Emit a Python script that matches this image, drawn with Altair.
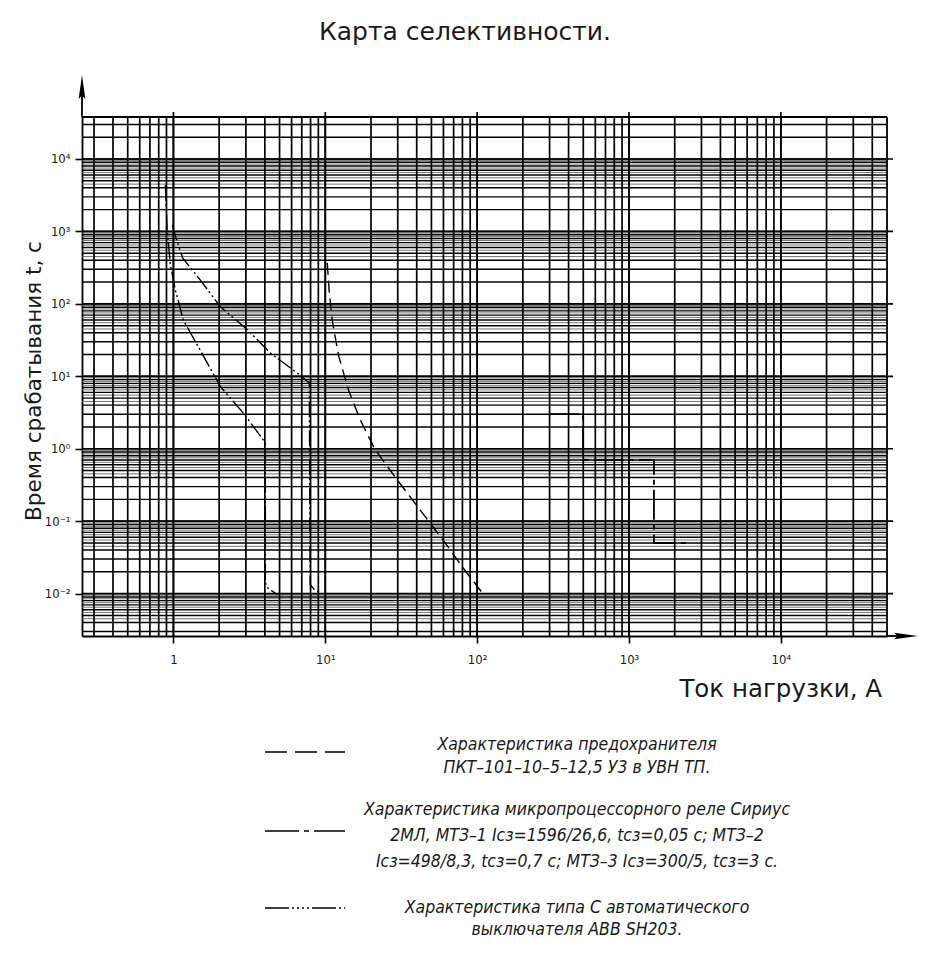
import altair as alt
import pandas as pd

# ---------------- data ----------------
# Fuse ПКТ-101-10-5-12,5 (dashed)
fuse_I = [10.3, 10.6, 11.1, 12.2, 14.2, 17.0, 21.3, 29.0, 42.0, 61.6, 83.0, 108.0]
fuse_t = [370, 155, 60, 19.8, 6.5, 2.5, 0.97, 0.40, 0.144, 0.05, 0.021, 0.0103]

# Breaker ABB SH203, type C – left (5·In) boundary
brkA_I = [0.885, 0.91, 0.955, 1.03, 1.16, 1.5, 2.04, 2.89, 4.03, 4.03, 4.15, 4.83]
brkA_t = [4370, 1050, 345, 155, 60, 23, 7.2, 3.1, 1.21, 0.0142, 0.0121, 0.0097]

# Breaker ABB SH203, type C – right (10·In) boundary
brkB_I = [0.985, 1.05, 1.15, 1.5, 2.04, 3.07, 4.35, 6.5, 7.85, 7.95, 8.47, 9.55]
brkB_t = [1230, 760, 430, 214, 91, 44, 21, 11.2, 8.1, 0.0133, 0.0114, 0.0100]

# Relay Sirius-2ML definite-time steps
relay_I = [300, 498, 498, 1460, 1460, 2500]
relay_t = [3.0, 3.0, 0.7, 0.7, 0.05, 0.05]

# grid / ticks
x_decades = [0.1, 1, 10, 100, 1000, 10000]
x_mult = [1, 2, 3, 4, 5, 6, 7, 8, 9]
y_decades = [0.001, 0.01, 0.1, 1, 10, 100, 1000, 10000]
y_mult = [1, 2, 3, 4, 5, 6, 7, 8, 9]
y_half = [4.5, 5.5, 6.5, 7.5, 8.5, 9.5]
x_label_values = [1, 10, 100, 1000, 10000]
y_label_values = [0.01, 0.1, 1, 10, 100, 1000, 10000]

title_text = "Карта селективности."
y_title = "Время срабатывания t, с"
x_title = "Ток нагрузки, А"
legend_fuse = ["Характеристика предохранителя", "ПКТ–101–10–5–12,5 У3 в УВН ТП."]
legend_relay = ["Характеристика микропроцессорного реле Сириус",
                "2МЛ, МТЗ–1 Iсз=1596/26,6, tсз=0,05 с; МТЗ–2",
                "Iсз=498/8,3, tсз=0,7 с; МТЗ–3 Iсз=300/5, tсз=3 с."]
legend_brk = ["Характеристика типа С автоматического", "выключателя ABB SH203."]

# ---------------- layout ----------------
W, H = 805, 519
X_DOM = [0.25, 50000]
Y_DOM = [0.0026, 38000]
FONT = "DejaVu Sans Condensed"
FONT_WIDE = "DejaVu Sans"
INK = "#1a1a1a"

x_grid = [m * d for d in x_decades for m in x_mult if X_DOM[0] < m * d < X_DOM[1]]
y_grid = [m * d for d in y_decades for m in y_mult if Y_DOM[0] < m * d < Y_DOM[1]]
y_grid_half = [m * d for d in y_decades for m in y_half if Y_DOM[0] < m * d < Y_DOM[1]]

xs = alt.Scale(type="log", domain=X_DOM, nice=False)
ys = alt.Scale(type="log", domain=Y_DOM, nice=False)

x_axis = alt.Axis(
    values=x_label_values,
    labelExpr="datum.value < 5 ? '1' : datum.value < 50 ? '10¹' : datum.value < 500 ? '10²' : datum.value < 5000 ? '10³' : '10⁴'",
    grid=False, tickSize=7, tickWidth=1.6, tickColor="black",
    domainColor="black", domainWidth=1.8,
    labelFont=FONT, labelFontSize=13, labelColor=INK, labelPadding=10,
)
y_axis = alt.Axis(
    values=y_label_values,
    labelExpr="datum.value < 0.05 ? '10⁻²' : datum.value < 0.5 ? '10⁻¹' : datum.value < 5 ? '10⁰' : datum.value < 50 ? '10¹' : datum.value < 500 ? '10²' : datum.value < 5000 ? '10³' : '10⁴'",
    grid=False, tickSize=7, tickWidth=1.6, tickColor="black",
    domainColor="black", domainWidth=1.8,
    labelFont=FONT, labelFontSize=13, labelColor=INK, labelPadding=5,
)


def X():
    return alt.X("I:Q", scale=xs, axis=x_axis, title=None)


def Y():
    return alt.Y("t:Q", scale=ys, axis=y_axis, title=None)


def series(I, t):
    return pd.DataFrame({"I": I, "t": t, "k": list(range(len(I)))})


# grid
vgrid = alt.Chart(pd.DataFrame({"I": x_grid})).mark_rule(color="black", strokeWidth=1.7).encode(
    x=X(), y=alt.value(0), y2=alt.value(H))
vmajor = alt.Chart(pd.DataFrame({"I": x_label_values})).mark_rule(color="black", strokeWidth=1.7).encode(
    x=X(), y=alt.value(-5), y2=alt.value(H))
hgrid_half = alt.Chart(pd.DataFrame({"t": y_grid_half})).mark_rule(color="#666", strokeWidth=0.9).encode(
    y=Y(), x=alt.value(0), x2=alt.value(W))
hgrid = alt.Chart(pd.DataFrame({"t": y_grid})).mark_rule(color="black", strokeWidth=1.4).encode(
    y=Y(), x=alt.value(0), x2=alt.value(W))
hmajor = alt.Chart(pd.DataFrame({"t": y_label_values})).mark_rule(color="black", strokeWidth=1.7).encode(
    y=Y(), x=alt.value(0), x2=alt.value(W + 6))

one = pd.DataFrame({"k": [0]})
border_top = alt.Chart(one).mark_rule(color="black", strokeWidth=1.8).encode(
    x=alt.value(0), x2=alt.value(W), y=alt.value(0))
border_right = alt.Chart(one).mark_rule(color="black", strokeWidth=1.8).encode(
    x=alt.value(W), y=alt.value(0), y2=alt.value(H))

# axis arrows
y_arrow_line = alt.Chart(one).mark_rule(color="black", strokeWidth=1.8).encode(
    x=alt.value(0), y=alt.value(-30), y2=alt.value(0))
x_arrow_line = alt.Chart(one).mark_rule(color="black", strokeWidth=1.8).encode(
    x=alt.value(W), x2=alt.value(W + 20), y=alt.value(H))
y_arrow = alt.Chart(one).mark_point(
    shape="M0,-1L0.28,1L0,0.7L-0.28,1Z", filled=True, color="black", opacity=1, size=576
).encode(x=alt.value(0), y=alt.value(-30))
x_arrow = alt.Chart(one).mark_point(
    shape="M1,0L-1,-0.28L-0.7,0L-1,0.28Z", filled=True, color="black", opacity=1, size=576
).encode(x=alt.value(W + 19), y=alt.value(H))

# curves
LW = 1.4
fuse = alt.Chart(series(fuse_I, fuse_t)).mark_line(color="black", strokeWidth=LW, strokeDash=[12, 6]).encode(
    x=X(), y=Y(), order="k:Q")
brkA = alt.Chart(series(brkA_I, brkA_t)).mark_line(color="black", strokeWidth=LW, strokeDash=[16, 3, 2, 3, 2, 3]).encode(
    x=X(), y=Y(), order="k:Q")
brkB = alt.Chart(series(brkB_I, brkB_t)).mark_line(color="black", strokeWidth=LW, strokeDash=[16, 3, 2, 3, 2, 3]).encode(
    x=X(), y=Y(), order="k:Q")
relay = alt.Chart(series(relay_I, relay_t)).mark_line(color="black", strokeWidth=LW + 0.4, strokeDash=[30, 5, 5, 5]).encode(
    x=X(), y=Y(), order="k:Q")


def txt(s, x, y, size, align="center", angle=0, italic=False, font=FONT):
    kw = dict(text=s, fontSize=size, align=align, baseline="middle", font=font, color=INK)
    if angle:
        kw["angle"] = angle
    if italic:
        kw["fontStyle"] = "italic"
    return alt.Chart(one).mark_text(**kw).encode(x=alt.value(x), y=alt.value(y))


texts = [
    txt(title_text, 383, -85, 25, font=FONT_WIDE),
    txt(y_title, -47, 264, 21.5, angle=270, font=FONT_WIDE),
    txt(x_title, 800, 573, 24.5, align="right", font=FONT_WIDE),
]
LX = 495
for i, s in enumerate(legend_fuse):
    texts.append(txt(s, LX, 628 + 23 * i, 17.5, italic=True))
for i, s in enumerate(legend_relay):
    texts.append(txt(s, LX, 693 + 26 * i, 17.5, italic=True))
for i, s in enumerate(legend_brk):
    texts.append(txt(s, LX, 791 + 22 * i, 17.5, italic=True))

leg_fuse = alt.Chart(one).mark_rule(color="black", strokeWidth=1.6, strokeDash=[22, 8]).encode(
    x=alt.value(183), x2=alt.value(263), y=alt.value(635))
leg_relay = alt.Chart(one).mark_rule(color="black", strokeWidth=1.6, strokeDash=[34, 5, 5, 5]).encode(
    x=alt.value(183), x2=alt.value(263), y=alt.value(714))
leg_brk = alt.Chart(one).mark_rule(color="black", strokeWidth=1.6, strokeDash=[24, 3, 2, 3, 2, 3, 2, 3, 2, 3]).encode(
    x=alt.value(183), x2=alt.value(263), y=alt.value(791))

chart = alt.layer(
    hgrid_half, hgrid, hmajor, vgrid, vmajor, border_top, border_right,
    y_arrow_line, x_arrow_line, y_arrow, x_arrow,
    fuse, brkA, brkB, relay,
    leg_fuse, leg_relay, leg_brk,
    *texts,
).properties(
    width=W, height=H,
    autosize=alt.AutoSizeParams(type="none"),
    padding={"left": 74, "top": 109, "right": 45, "bottom": 320},
).configure_view(stroke=None).configure(background="white")

chart.save("out.html", embed_options={"renderer": "svg", "actions": False})
